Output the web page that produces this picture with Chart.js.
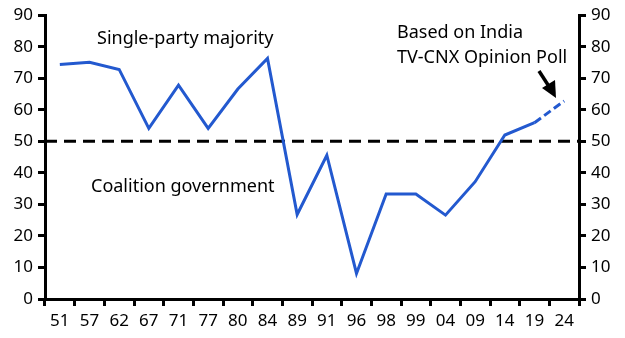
<!DOCTYPE html>
<html>
<head>
<meta charset="utf-8">
<style>
  html, body { margin: 0; padding: 0; background: #fff; }
  #wrap { position: relative; width: 625px; height: 338px; }
</style>
</head>
<body>
<div id="wrap">
    <canvas id="myChart" width="625" height="338"></canvas>
</div>

<script src="https://cdn.jsdelivr.net/npm/chart.js@4.4.1/dist/chart.umd.min.js"></script>

<script>
    // election years and seat share of the largest party (%)
    const years = ['51', '57', '62', '67', '71', '77', '80', '84', '89', '91', '96', '98', '99', '04', '09', '14', '19', '24'];
    const seatShare = [74.4, 75.1, 72.8, 54.1, 67.8, 54.1, 66.6, 76.3, 26.8, 45.6, 8.1, 33.3, 33.3, 26.6, 37.2, 52.0, 55.9, 62.8];
    const majorityLine = 50;
    const yTicks = [0, 10, 20, 30, 40, 50, 60, 70, 80, 90];

    const FONT = '"Noto Sans", sans-serif';
    const blue = '#2359cf';

    // dashed 50% line + text notes
    const notes = {
        id: 'notes',
        beforeDatasetsDraw(chart) {
            const ctx = chart.ctx;
            const area = chart.chartArea;
            const y = chart.scales.y.getPixelForValue(majorityLine);
            ctx.save();
            ctx.strokeStyle = '#000';
            ctx.lineWidth = 3;
            ctx.setLineDash([12, 7]);
            ctx.beginPath();
            ctx.moveTo(area.left, y);
            ctx.lineTo(area.right, y);
            ctx.stroke();
            ctx.restore();
        },
        afterDatasetsDraw(chart) {
            const ctx = chart.ctx;
            ctx.save();
            ctx.fillStyle = '#000';
            ctx.font = '18px ' + FONT;
            ctx.textBaseline = 'middle';
            ctx.fillText('Single-party majority', 97, 39);
            ctx.fillText('Coalition government', 91, 187);
            ctx.fillText('Based on India', 397, 33);
            ctx.fillText('TV-CNX Opinion Poll', 397, 58);

            // arrow to the poll point
            ctx.strokeStyle = '#000';
            ctx.lineWidth = 3.5;
            ctx.beginPath();
            ctx.moveTo(539, 71);
            ctx.lineTo(550, 88);
            ctx.stroke();
            ctx.beginPath();
            ctx.moveTo(556, 98);
            ctx.lineTo(542, 88);
            ctx.lineTo(555, 80);
            ctx.closePath();
            ctx.fill();
            ctx.restore();
        }
    };

    const axisStyle = {
        min: 0,
        max: 90,
        afterBuildTicks(scale) { scale.ticks = yTicks.map(v => ({ value: v })); },
        grid: { drawOnChartArea: false, drawTicks: true, tickLength: 7, color: '#000', lineWidth: 3 },
        border: { display: true, color: '#000', width: 3 },
        ticks: { color: '#000', font: { size: 17, family: FONT }, padding: 5 }
    };

    const ctx = document.getElementById('myChart').getContext('2d');
    const myChart = new Chart(ctx, {
        type: 'line',
        data: {
            labels: years,
            datasets: [{
                label: 'Seat share',
                data: seatShare,
                borderColor: blue,
                borderWidth: 3,
                pointRadius: 0,
                tension: 0,
                segment: {
                    borderDash: c => c.p0DataIndex >= years.length - 2 ? [8, 4] : undefined
                }
            }]
        },
        options: {
            responsive: false,
            animation: false,
            layout: { padding: { top: 5, bottom: 0 } },
            plugins: { legend: { display: false }, tooltip: { enabled: false } },
            scales: {
                x: {
                    offset: true,
                    afterFit(s) { s.height = 39; },
                    grid: { drawOnChartArea: false, offset: true, tickLength: 7, color: '#000', lineWidth: 3 },
                    border: { display: true, color: '#000', width: 3 },
                    ticks: { color: '#000', font: { size: 17, family: FONT }, padding: 5, maxRotation: 0, autoSkip: false }
                },
                y: Object.assign({ position: 'left', afterFit(s) { s.width = 45; } }, axisStyle),
                y2: Object.assign({ position: 'right', afterFit(s) { s.width = 46; } }, axisStyle)
            }
        },
        plugins: [notes]
    });
</script>
</body>
</html>
